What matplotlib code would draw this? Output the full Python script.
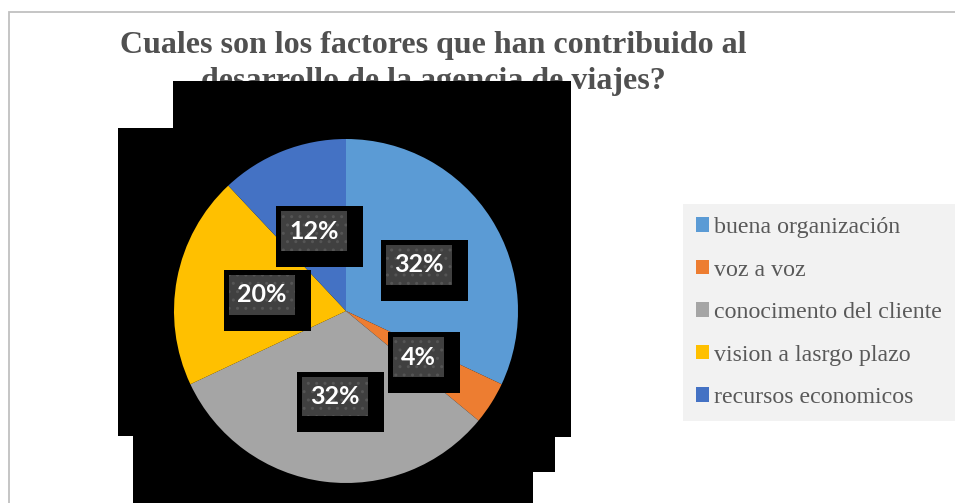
import matplotlib.pyplot as plt
from matplotlib.patches import Rectangle

# survey answers (percent of respondents)
factores = ['buena organización', 'voz a voz', 'conocimento del cliente',
            'vision a lasrgo plazo', 'recursos economicos']
porcentajes = [32, 4, 32, 20, 12]
colores = ['#5B9BD5', '#ED7D31', '#A5A5A5', '#FFC000', '#4472C4']

titulo = 'Cuales son los factores que han contribuido al\ndesarrollo de la agencia de viajes?'

W, H = 955, 503


def px(x, y):
    # pixel position (top-left origin) -> figure fraction
    return x / W, 1 - y / H


fig = plt.figure(figsize=(W / 100, H / 100), dpi=100)

# chart area outline
x0, y0 = px(8.5, 11.5)
fig.add_artist(Rectangle((x0, -0.1), 1.2, y0 + 0.1, transform=fig.transFigure,
                         fill=False, edgecolor='#c0c0c0', linewidth=1.3))

fig.text(433 / W, 1 - 31 / H, titulo, ha='center', va='top',
         fontsize=23, fontweight='bold', family='Liberation Serif',
         color='#505050', linespacing=1.32, zorder=3)

# dark blocks sitting behind the pie
bloques = [(173, 81, 571, 437), (118, 128, 173, 436),
           (133, 436, 555, 472), (133, 472, 533, 503)]
for bx0, by0, bx1, by1 in bloques:
    fx0, fy1 = px(bx0, by0)
    fx1, fy0 = px(bx1, by1)
    fig.add_artist(Rectangle((fx0, fy0), fx1 - fx0, fy1 - fy0,
                             transform=fig.transFigure, facecolor='black',
                             edgecolor='none', zorder=3.5))

ax = fig.add_axes([174 / W, 20 / H, 344 / W, 344 / H])
ax.set_zorder(5)
wedges, texts, autotexts = ax.pie(
    porcentajes, colors=colores, startangle=90, counterclock=False,
    autopct='%1.0f%%', pctdistance=0.5,
    textprops=dict(color='white', fontsize=18, fontweight='bold', family='Lato'))
ax.set_xlim(-1, 1)
ax.set_ylim(-1, 1)

for t in autotexts:
    # shadow box first, then the label box on top
    ax.annotate(t.get_text(), t.get_position(), xytext=(4, -4),
                textcoords='offset points', ha='center', va='center',
                fontsize=18, fontweight='bold', family='Lato', color='black',
                bbox=dict(boxstyle='square,pad=0.75', facecolor='black',
                          edgecolor='none'), zorder=4)
    t.set_zorder(6)
    t.set_bbox(dict(boxstyle='square,pad=0.33', facecolor='#404040',
                    edgecolor='#555555', linewidth=0, hatch='..'))

fig.legend(wedges, factores, loc='upper left', bbox_to_anchor=px(683, 204),
           borderaxespad=0, frameon=True, fancybox=False, facecolor='#f2f2f2',
           edgecolor='none', framealpha=1,
           prop=dict(family='Liberation Serif', size=17.2), labelcolor='#595959',
           handlelength=0.55, handleheight=0.55, handletextpad=0.2,
           labelspacing=0.9, borderpad=0.55)

fig.savefig('out.png', dpi=100)
